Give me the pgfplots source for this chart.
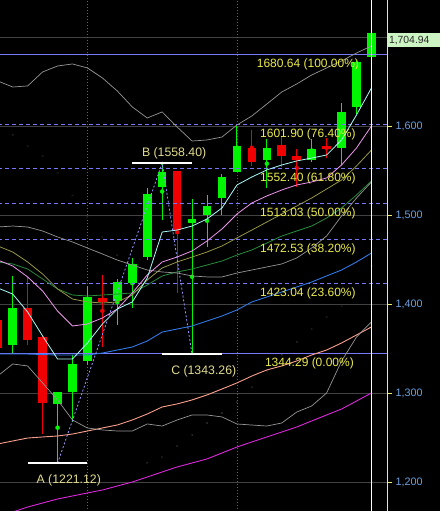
\documentclass[border=0pt]{standalone}
\usepackage{fontspec}
\setmainfont{Liberation Sans}
\usepackage{pgfplots}
\pgfplotsset{compat=1.18}
\usepackage{pgfplotstable}

\definecolor{upg}{RGB}{0,245,0}
\definecolor{dnr}{RGB}{240,0,0}
\definecolor{fibc}{RGB}{120,120,250}
\definecolor{grd}{RGB}{66,66,66}
\definecolor{vgrd}{RGB}{100,100,100}
\definecolor{cyl}{RGB}{170,250,250}
\definecolor{pkl}{RGB}{240,150,240}
\definecolor{oll}{RGB}{150,150,70}
\definecolor{dgl}{RGB}{40,140,60}
\definecolor{bll}{RGB}{50,120,230}
\definecolor{sal}{RGB}{250,160,140}
\definecolor{mgl}{RGB}{220,40,220}
\definecolor{bbl}{RGB}{150,150,150}
\definecolor{fibtxt}{RGB}{235,235,80}
\definecolor{abctxt}{RGB}{225,220,140}
\definecolor{tickc}{RGB}{110,160,225}
\definecolor{axy}{RGB}{240,240,110}
\definecolor{boxg}{RGB}{205,245,195}
\definecolor{boxt}{RGB}{40,40,40}
\definecolor{abcl}{RGB}{150,150,255}

\pgfplotstableread{
i cy pk ol dg bl sa mg bbu bbm bbl
-1 1418.0 1449.4 1465.2 1447.2 1343.8 1242.7 1161.0 1650.6 1486.5 1319.1
0 1411.2 1442.7 1458.4 1445.0 1343.8 1246.1 1166.3 1643.8 1487.6 1332.6
1 1391.0 1430.4 1447.2 1439.3 1343.8 1249.4 1171.9 1645.0 1486.5 1330.4
2 1364.1 1414.6 1433.7 1428.1 1343.2 1250.6 1176.4 1660.7 1482.0 1311.3
3 1338.2 1392.1 1416.9 1416.9 1342.7 1251.7 1180.9 1667.4 1475.3 1292.2
4 1338.2 1375.3 1405.6 1410.1 1342.7 1253.9 1184.3 1669.7 1469.7 1269.7
5 1356.2 1377.5 1402.3 1409.0 1342.7 1257.3 1187.7 1665.2 1462.9 1260.7
6 1377.5 1384.3 1401.1 1410.1 1344.9 1260.7 1191.0 1654.0 1456.2 1258.5
7 1394.4 1394.4 1402.3 1411.2 1348.3 1264.1 1195.5 1639.3 1449.4 1257.3
8 1402.3 1412.4 1410.1 1412.4 1351.7 1269.7 1200.0 1621.4 1443.8 1257.3
9 1429.2 1432.6 1427.0 1421.3 1358.4 1276.4 1205.6 1609.0 1438.2 1265.2
10 1480.9 1447.2 1440.5 1431.5 1368.5 1284.3 1211.3 1615.8 1436.0 1262.9
11 1483.1 1452.8 1447.2 1436.0 1371.9 1287.7 1216.9 1598.9 1434.8 1269.7
12 1487.6 1459.6 1452.8 1439.3 1375.3 1292.2 1221.4 1583.1 1431.5 1275.3
13 1495.5 1470.8 1458.4 1443.8 1380.9 1297.8 1225.9 1584.3 1430.4 1275.3
14 1507.9 1484.3 1465.2 1448.3 1386.5 1304.5 1232.6 1587.6 1430.4 1273.1
15 1533.7 1501.1 1474.2 1455.0 1393.3 1311.3 1239.3 1601.1 1434.8 1265.2
16 1542.7 1513.5 1483.1 1460.7 1402.3 1319.1 1245.0 1611.3 1438.2 1264.0
17 1550.6 1521.4 1492.1 1468.5 1407.9 1325.9 1250.6 1624.7 1441.6 1262.9
18 1556.2 1528.1 1501.1 1476.4 1413.5 1330.4 1256.2 1638.2 1445.0 1266.3
19 1560.7 1533.7 1510.1 1482.0 1419.1 1336.0 1261.8 1647.2 1451.7 1278.6
20 1564.0 1537.1 1519.1 1487.6 1424.7 1342.7 1268.6 1657.3 1462.9 1285.4
21 1567.4 1541.6 1529.2 1496.6 1431.5 1348.3 1275.3 1665.2 1476.4 1300.0
22 1584.3 1556.2 1539.3 1507.9 1438.2 1356.2 1282.0 1673.1 1498.9 1335.9
23 1612.4 1575.3 1555.1 1522.5 1447.2 1365.2 1291.0 1682.0 1519.1 1362.9
24 1642.7 1600.0 1573.0 1538.2 1457.3 1374.2 1300.0 1689.9 1537.1 1379.8
}\ma

\pgfplotstableread{
i o h l c
0 1354.0 1431.5 1344.6 1395.8
3 1287.3 1301.0 1221.12 1300.8
4 1301.5 1342.7 1267.8 1332.6
5 1336.3 1420.2 1331.5 1408.2
7 1403.4 1427.7 1376.4 1425.1
8 1423.9 1451.3 1395.2 1444.6
9 1452.5 1530.0 1450.0 1523.6
10 1531.8 1558.4 1494.4 1548.7
12 1490.7 1518.0 1343.26 1495.5
13 1500.0 1522.5 1464.4 1510.1
14 1519.4 1545.7 1500.0 1543.0
15 1548.7 1600.3 1548.0 1577.5
17 1561.8 1585.4 1530.0 1574.9
20 1561.8 1585.0 1559.9 1574.2
22 1575.0 1626.2 1556.2 1615.4
23 1621.7 1673.0 1614.0 1672.3
24 1677.9 1706.0 1676.0 1704.94
}\up

\pgfplotstableread{
i o h l c
-1 1382.0 1382.0 1350.2 1350.2
1 1395.5 1430.0 1354.0 1359.6
2 1363.3 1364.0 1254.0 1289.1
6 1406.4 1432.6 1352.0 1401.9
11 1549.4 1549.5 1412.0 1483.1
16 1575.6 1595.5 1555.4 1559.9
18 1578.7 1589.1 1553.6 1566.3
19 1566.3 1573.8 1531.8 1561.8
21 1577.5 1586.9 1563.7 1573.8
}\dn

\pgfplotstableread{
i s
0 1589.9
1 1577.5
2 1566.3
3 1547.2
4 1521.4
5 1497.8
6 1475.3
7 1455.0
9 1221.4
10 1228.1
11 1240.5
12 1252.8
13 1266.3
14 1277.5
15 1289.9
16 1306.8
17 1324.7
18 1343.0
19 1357.3
20 1371.9
21 1385.4
22 1397.8
24 1442.7
}\sar

\begin{document}
\begin{tikzpicture}[x=1pt,y=1pt,
  fibl/.style={text=fibtxt, anchor=base, inner sep=0pt, font=\fontsize{12}{14}\selectfont},
  abcn/.style={text=abctxt, anchor=base, inner sep=0pt, font=\fontsize{12.3}{14}\selectfont}]
\useasboundingbox (0,0) rectangle (440,511);
\fill[black] (0,0) rectangle (440,511);
\begin{axis}[
  at={(0pt,0pt)}, anchor=south west,
  scale only axis, width=387pt, height=511pt,
  xmin=-0.85, xmax=25.04, ymin=1167.42, ymax=1741.57,
  axis x line=none,
  axis y line*=right,
  y axis line style={draw=axy, line width=1pt, -},
  ytick={1200,1300,1400,1500,1600,1700},
  yticklabels={{1,200},{1,300},{1,400},{1,500},{1,600},{}},
  yticklabel style={font=\fontsize{10.8}{12}\selectfont, text=tickc},
  tick align=outside, major tick length=5pt,
  ytick style={draw=axy, line width=0.8pt},
  ymajorgrids, grid style={draw=grd, line width=0.8pt},
  clip mode=individual,
]
% vertical dotted grid
\addplot[vgrd, line width=0.8pt, dash pattern=on 1pt off 2pt] coordinates {(5,1160) (5,1750)};
\addplot[vgrd, line width=0.8pt, dash pattern=on 1pt off 2pt] coordinates {(15,1160) (15,1750)};
% parabolic SAR dots
\addplot[only marks, mark=*, mark size=0.8pt, mark options={draw=none, fill=white!85!black}] table[x=i, y=s] {\sar};
% candles: bodies and wicks
\addplot[upg, only marks, mark=none, error bars/.cd, y dir=both, y explicit, error mark=none,
  error bar style={line width=1pt, draw=upg}]
  table[x=i, y expr={(\thisrow{h}+\thisrow{l})/2}, y error expr={(\thisrow{h}-\thisrow{l})/2}] {\up};
\addplot[upg, only marks, mark=none, error bars/.cd, y dir=both, y explicit, error mark=none,
  error bar style={line width=8.6pt, draw=upg}]
  table[x=i, y expr={(\thisrow{o}+\thisrow{c})/2}, y error expr={abs(\thisrow{c}-\thisrow{o})/2}] {\up};
\addplot[dnr, only marks, mark=none, error bars/.cd, y dir=both, y explicit, error mark=none,
  error bar style={line width=1pt, draw=dnr}]
  table[x=i, y expr={(\thisrow{h}+\thisrow{l})/2}, y error expr={(\thisrow{h}-\thisrow{l})/2}] {\dn};
\addplot[dnr, only marks, mark=none, error bars/.cd, y dir=both, y explicit, error mark=none,
  error bar style={line width=8.6pt, draw=dnr}]
  table[x=i, y expr={(\thisrow{o}+\thisrow{c})/2}, y error expr={abs(\thisrow{c}-\thisrow{o})/2}] {\dn};
% fibonacci levels
\addplot[fibc, line width=0.9pt] coordinates {(-1,1680.64) (26,1680.64)};
\addplot[fibc, line width=0.9pt] coordinates {(-1,1344.29) (26,1344.29)};
\addplot[fibc, line width=0.8pt, dash pattern=on 4pt off 3pt] coordinates {(-1,1601.90) (26,1601.90)};
\addplot[fibc, line width=0.8pt, dash pattern=on 4pt off 3pt] coordinates {(-1,1552.40) (26,1552.40)};
\addplot[fibc, line width=0.8pt, dash pattern=on 4pt off 3pt] coordinates {(-1,1513.03) (26,1513.03)};
\addplot[fibc, line width=0.8pt, dash pattern=on 4pt off 3pt] coordinates {(-1,1472.53) (26,1472.53)};
\addplot[fibc, line width=0.8pt, dash pattern=on 4pt off 3pt] coordinates {(-1,1423.04) (26,1423.04)};
% moving averages and bands
\addplot[mgl, line width=0.9pt] table[x=i, y=mg] {\ma};
\addplot[sal, line width=0.9pt] table[x=i, y=sa] {\ma};
\addplot[bll, line width=0.9pt] table[x=i, y=bl] {\ma};
\addplot[dgl, line width=0.8pt] table[x=i, y=dg] {\ma};
\addplot[oll, line width=0.8pt] table[x=i, y=ol] {\ma};
\addplot[bbl, line width=0.7pt] table[x=i, y=bbu] {\ma};
\addplot[bbl, line width=0.7pt] table[x=i, y=bbm] {\ma};
\addplot[bbl, line width=0.7pt] table[x=i, y=bbl] {\ma};
\addplot[pkl, line width=0.8pt] table[x=i, y=pk] {\ma};
\addplot[cyl, line width=0.8pt] table[x=i, y=cy] {\ma};
% ABC zigzag
\addplot[abcl, line width=0.8pt, dash pattern=on 2pt off 2pt] coordinates {(3,1221.12) (10,1558.40) (12,1343.26)};
% swing segments
\addplot[white, line width=2pt] coordinates {(1,1221.12) (5,1221.12)};
\addplot[white, line width=2pt] coordinates {(8,1558.40) (12,1558.40)};
\addplot[white, line width=2pt] coordinates {(10,1343.26) (14,1343.26)};
% cursor
\addplot[white, line width=0.9pt] coordinates {(24,1160) (24,1750)};
% labels
\node[fibl] at (axis cs:19.75,1680.64) [yshift=-13pt] {1680.64 (100.00\%)};
\node[fibl] at (axis cs:19.75,1601.90) [yshift=-13pt] {1601.90 (76.40\%)};
\node[fibl] at (axis cs:19.75,1552.40) [yshift=-13pt] {1552.40 (61.80\%)};
\node[fibl] at (axis cs:19.75,1513.03) [yshift=-13pt] {1513.03 (50.00\%)};
\node[fibl] at (axis cs:19.75,1472.53) [yshift=-13pt] {1472.53 (38.20\%)};
\node[fibl] at (axis cs:19.75,1423.04) [yshift=-13pt] {1423.04 (23.60\%)};
\node[fibl] at (axis cs:19.85,1344.29) [yshift=-13pt] {1344.29 (0.00\%)};
\node[abcn] at (axis cs:3.75,1221.12) [yshift=-20.3pt] {A (1221.12)};
\node[abcn] at (axis cs:10.8,1558.40) [yshift=6.5pt] {B (1558.40)};
\node[abcn] at (axis cs:12.78,1343.26) [yshift=-20pt] {C (1343.26)};
\coordinate (lastp) at (axis cs:25.04,1704.94);
\end{axis}
\fill[boxg] ([xshift=0.6pt]lastp) rectangle ([xshift=53.4pt,yshift=-14pt]lastp);
\node[anchor=base west, inner sep=0pt, text=boxt, font=\fontsize{10.4}{12}\selectfont] at ([xshift=1.8pt,yshift=-11.4pt]lastp) {1,704.94};
\end{tikzpicture}
\end{document}
